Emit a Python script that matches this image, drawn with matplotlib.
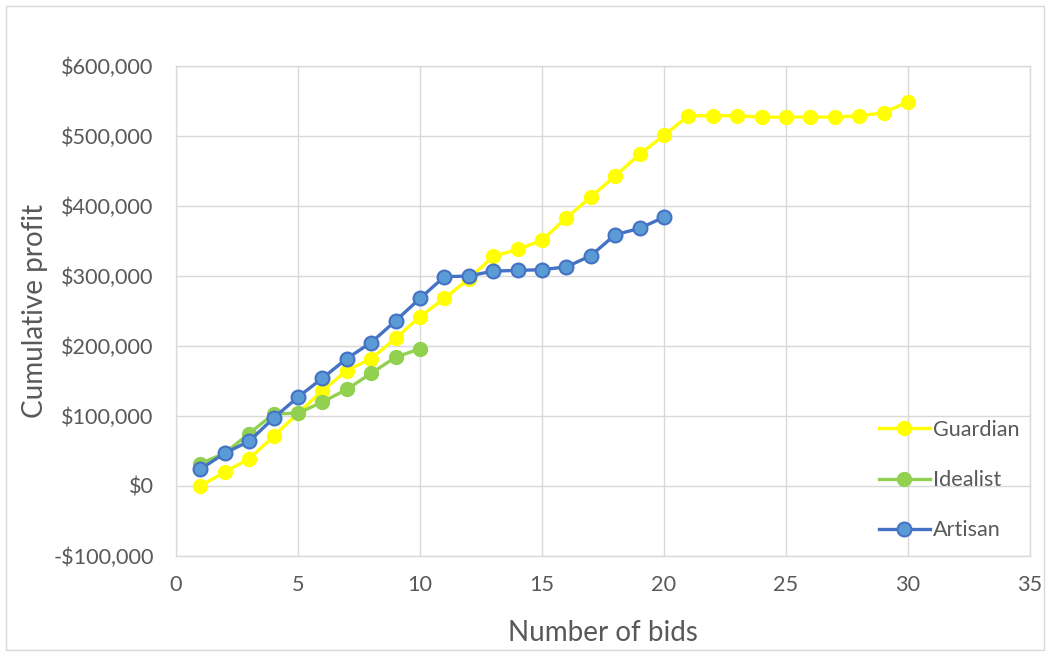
import matplotlib
matplotlib.use("Agg")
import matplotlib.pyplot as plt
from matplotlib.ticker import FuncFormatter, MultipleLocator
from matplotlib.patches import Rectangle

bids_guardian = list(range(1, 31))
guardian = [0, 20000, 39000, 71000, 104000, 136000, 165000, 182000, 211000, 242000,
            268000, 296000, 328000, 338000, 351000, 383000, 413000, 443000, 474000, 501000,
            529000, 529000, 529000, 527000, 527000, 527000, 527000, 529000, 533000, 549000]

bids_idealist = list(range(1, 11))
idealist = [32000, 47000, 75000, 103000, 104000, 120000, 138000, 161000, 184000, 196000]

bids_artisan = list(range(1, 21))
artisan = [24000, 47000, 64000, 97000, 127000, 154000, 182000, 205000, 236000, 268000,
           299000, 300000, 307000, 308000, 309000, 313000, 329000, 359000, 368000, 384000]

plt.rcParams['font.family'] = ['Lato', 'DejaVu Sans']
txt = '#595959'
grid = '#D9D9D9'

fig = plt.figure(figsize=(10.5, 6.56), dpi=100)
ax = fig.add_axes([176 / 1050, 1 - 556 / 656, (1030 - 176) / 1050, (556 - 66) / 656])

ax.plot(bids_guardian, guardian, color='#FFFF00', lw=2.4, marker='o', ms=10,
        mfc='#FFFF00', mec='#FFFF00', label='Guardian', zorder=3)
ax.plot(bids_idealist, idealist, color='#92D050', lw=2.4, marker='o', ms=10,
        mfc='#92D050', mec='#92D050', label='Idealist', zorder=4)
ax.plot(bids_artisan, artisan, color='#4472C4', lw=2.4, marker='o', ms=10,
        mfc='#5B9BD5', mec='#4472C4', mew=1.5, label='Artisan', zorder=5)

ax.set_xlim(0, 35)
ax.set_ylim(-100000, 600000)
ax.xaxis.set_major_locator(MultipleLocator(5))
ax.yaxis.set_major_locator(MultipleLocator(100000))
ax.yaxis.set_major_formatter(FuncFormatter(
    lambda v, p: ('-$' if v < 0 else '$') + f'{abs(int(round(v))):,}'))

ax.grid(True, color=grid, lw=1)
ax.set_axisbelow(True)
for s in ax.spines.values():
    s.set_color(grid)
    s.set_linewidth(1)
ax.tick_params(axis='y', length=0, labelsize=15.6, colors=txt, pad=16)
ax.tick_params(axis='x', length=0, labelsize=15.6, colors=txt, pad=14)

ax.set_xlabel('Number of bids', fontsize=20, color=txt, labelpad=18)
ax.set_ylabel('Cumulative profit', fontsize=20, color=txt, labelpad=4)

ax.legend(loc='lower left', bbox_to_anchor=(0.8, -0.008), frameon=False,
          fontsize=15.6, labelcolor=txt, labelspacing=1.4, handlelength=2.35,
          handletextpad=0.15)

fig.patches.append(Rectangle((6 / 1050, 6 / 656), 1 - 12 / 1050, 1 - 12 / 656,
                             transform=fig.transFigure, fill=False,
                             edgecolor='#D9D9D9', lw=1))

fig.savefig('out.png', dpi=100)
